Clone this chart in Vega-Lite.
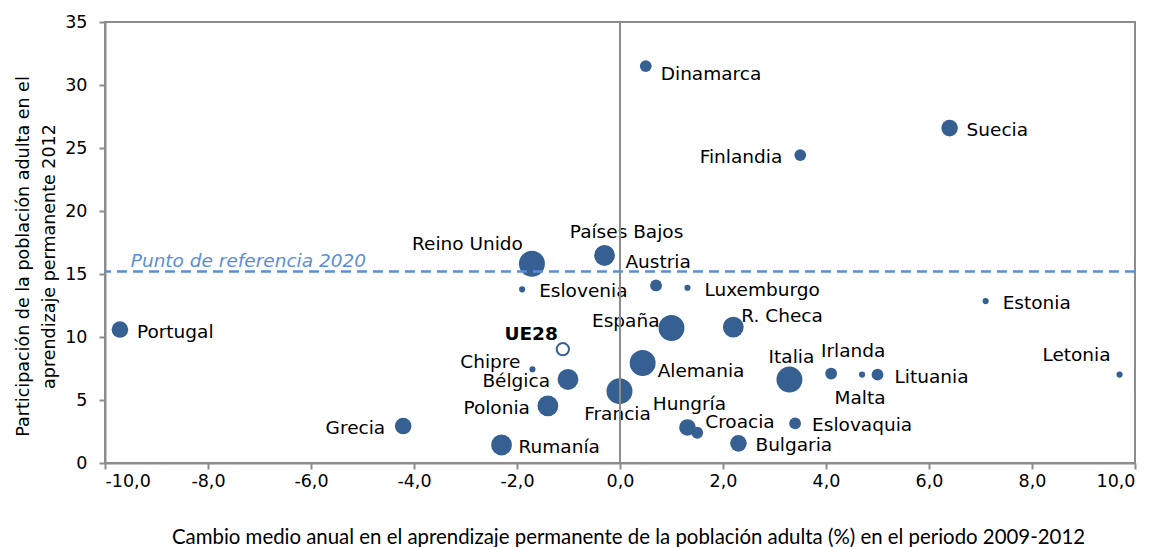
{
  "$schema": "https://vega.github.io/schema/vega-lite/v6.json",
  "autosize": {"type": "none"},
  "padding": {"left": 105, "top": 22, "right": 22, "bottom": 84},
  "width": 1030,
  "height": 441,
  "background": "white",
  "config": {
    "view": {"stroke": "#8c8c8c", "strokeWidth": 2},
    "font": "DejaVu Sans",
    "axis": {
      "grid": false,
      "domainColor": "#8c8c8c",
      "domainWidth": 2,
      "tickColor": "#8c8c8c",
      "tickWidth": 2,
      "labelFont": "DejaVu Sans",
      "labelFontSize": 17.5,
      "labelColor": "#000000",
      "titleColor": "#000000",
      "titleFontWeight": "normal"
    }
  },
  "datasets": {
    "paises": [
      {"pais": "Portugal", "cambio": -9.71, "participacion": 10.59, "clase": 3, "posicion": "derecha", "tipo": "país"},
      {"pais": "Grecia", "cambio": -4.21, "participacion": 2.93, "clase": 3, "posicion": "izquierda", "tipo": "país"},
      {"pais": "Rumanía", "cambio": -2.30, "participacion": 1.43, "clase": 4, "posicion": "derecha", "tipo": "país"},
      {"pais": "Polonia", "cambio": -1.40, "participacion": 4.54, "clase": 4, "posicion": "izquierda", "tipo": "país"},
      {"pais": "Bélgica", "cambio": -1.01, "participacion": 6.63, "clase": 4, "posicion": "izquierda", "tipo": "país"},
      {"pais": "Chipre", "cambio": -1.70, "participacion": 7.44, "clase": 1, "posicion": "izquierda-arriba", "tipo": "país"},
      {"pais": "Eslovenia", "cambio": -1.90, "participacion": 13.78, "clase": 1, "posicion": "derecha", "tipo": "país"},
      {"pais": "Reino Unido", "cambio": -1.71, "participacion": 15.81, "clase": 5, "posicion": "arriba-izquierda", "tipo": "país"},
      {"pais": "Países Bajos", "cambio": -0.30, "participacion": 16.47, "clase": 4, "posicion": "arriba-derecha", "tipo": "país"},
      {"pais": "Francia", "cambio": -0.01, "participacion": 5.70, "clase": 5, "posicion": "abajo", "tipo": "país"},
      {"pais": "Alemania", "cambio": 0.44, "participacion": 7.94, "clase": 5, "posicion": "derecha-abajo", "tipo": "país"},
      {"pais": "España", "cambio": 1.00, "participacion": 10.71, "clase": 5, "posicion": "izquierda-arriba", "tipo": "país"},
      {"pais": "Austria", "cambio": 0.70, "participacion": 14.09, "clase": 2, "posicion": "arriba", "tipo": "país"},
      {"pais": "Luxemburgo", "cambio": 1.31, "participacion": 13.91, "clase": 1, "posicion": "derecha", "tipo": "país"},
      {"pais": "Dinamarca", "cambio": 0.50, "participacion": 31.5, "clase": 2, "posicion": "derecha-abajo", "tipo": "país"},
      {"pais": "Finlandia", "cambio": 3.50, "participacion": 24.44, "clase": 2, "posicion": "izquierda", "tipo": "país"},
      {"pais": "Suecia", "cambio": 6.40, "participacion": 26.58, "clase": 3, "posicion": "derecha", "tipo": "país"},
      {"pais": "Estonia", "cambio": 7.10, "participacion": 12.85, "clase": 1, "posicion": "derecha", "tipo": "país"},
      {"pais": "Letonia", "cambio": 9.70, "participacion": 7.02, "clase": 1, "posicion": "arriba-izquierda", "tipo": "país"},
      {"pais": "R. Checa", "cambio": 2.20, "participacion": 10.79, "clase": 4, "posicion": "derecha-arriba", "tipo": "país"},
      {"pais": "Italia", "cambio": 3.29, "participacion": 6.62, "clase": 5, "posicion": "arriba", "tipo": "país"},
      {"pais": "Irlanda", "cambio": 4.10, "participacion": 7.10, "clase": 2, "posicion": "arriba-derecha", "tipo": "país"},
      {"pais": "Malta", "cambio": 4.70, "participacion": 7.02, "clase": 1, "posicion": "abajo", "tipo": "país"},
      {"pais": "Lituania", "cambio": 5.00, "participacion": 7.02, "clase": 2, "posicion": "derecha", "tipo": "país"},
      {"pais": "Eslovaquia", "cambio": 3.40, "participacion": 3.14, "clase": 2, "posicion": "derecha", "tipo": "país"},
      {"pais": "Hungría", "cambio": 1.31, "participacion": 2.82, "clase": 3, "posicion": "arriba", "tipo": "país"},
      {"pais": "Croacia", "cambio": 1.50, "participacion": 2.40, "clase": 2, "posicion": "derecha-arriba", "tipo": "país"},
      {"pais": "Bulgaria", "cambio": 2.30, "participacion": 1.56, "clase": 3, "posicion": "derecha", "tipo": "país"},
      {"pais": "UE28", "cambio": -1.11, "participacion": 9.03, "clase": 2, "posicion": "arriba-izquierda", "tipo": "UE28"}
    ],
    "referencia": [
      {"cambio": -9.5, "participacion": 15.2, "texto": "Punto de referencia 2020"}
    ]
  },
  "encoding": {
    "x": {
      "field": "cambio", "type": "quantitative",
      "scale": {"domain": [-10, 10], "nice": false, "zero": false},
      "axis": {
        "values": [-10, -8, -6, -4, -2, 0, 2, 4, 6, 8, 10],
        "labelExpr": "(datum.value < 0 ? '-' : '') + replace(format(abs(datum.value), '.1f'), '.', ',')",
        "tickSize": 6,
        "labelPadding": 3,
        "title": "Cambio medio anual en el aprendizaje permanente de la población adulta (%) en el periodo 2009-2012",
        "titleFont": "Lato",
        "titleFontSize": 20.4,
        "titleX": 523,
        "titleY": 80,
        "titleAlign": "center",
        "titleBaseline": "alphabetic"
      }
    },
    "y": {
      "field": "participacion", "type": "quantitative",
      "scale": {"domain": [0, 35], "nice": false},
      "axis": {
        "values": [0, 5, 10, 15, 20, 25, 30, 35],
        "tickSize": 6,
        "labelPadding": 12,
        "title": ["Participación de la población adulta en el", "aprendizaje permanente 2012"],
        "titleFont": "DejaVu Sans",
        "titleFontSize": 17.5,
        "titleLineHeight": 26,
        "titleX": -77,
        "titleY": 234,
        "titleAlign": "center",
        "titleBaseline": "alphabetic"
      }
    }
  },
  "layer": [
    {
      "data": {"name": "paises"},
      "transform": [{"filter": "datum.tipo === 'país'"}],
      "mark": {"type": "circle", "opacity": 1, "color": "#365F92"},
      "encoding": {
        "size": {
          "field": "clase", "type": "quantitative",
          "scale": {"type": "threshold", "domain": [1.5, 2.5, 3.5, 4.5], "range": [38, 139, 275, 434, 674]},
          "legend": null
        }
      }
    },
    {
      "data": {"name": "paises"},
      "transform": [{"filter": "datum.tipo === 'UE28'"}],
      "mark": {"type": "point", "shape": "circle", "filled": false, "fill": "white", "stroke": "#365F92", "strokeWidth": 2, "opacity": 1, "size": 150}
    },
    {
      "data": {"name": "paises"},
      "transform": [{"filter": "datum.tipo === 'país' && datum.posicion === 'derecha'"}],
      "mark": {"type": "text", "align": "left", "baseline": "middle", "dx": 17, "dy": 2, "fontSize": 18.5, "color": "#000000"},
      "encoding": {"text": {"field": "pais"}}
    },
    {
      "data": {"name": "paises"},
      "transform": [{"filter": "datum.tipo === 'país' && datum.posicion === 'derecha-abajo'"}],
      "mark": {"type": "text", "align": "left", "baseline": "middle", "dx": 15, "dy": 8, "fontSize": 18.5, "color": "#000000"},
      "encoding": {"text": {"field": "pais"}}
    },
    {
      "data": {"name": "paises"},
      "transform": [{"filter": "datum.tipo === 'país' && datum.posicion === 'derecha-arriba'"}],
      "mark": {"type": "text", "align": "left", "baseline": "middle", "dx": 8, "dy": -11, "fontSize": 18.5, "color": "#000000"},
      "encoding": {"text": {"field": "pais"}}
    },
    {
      "data": {"name": "paises"},
      "transform": [{"filter": "datum.tipo === 'país' && datum.posicion === 'izquierda'"}],
      "mark": {"type": "text", "align": "right", "baseline": "middle", "dx": -18, "dy": 2, "fontSize": 18.5, "color": "#000000"},
      "encoding": {"text": {"field": "pais"}}
    },
    {
      "data": {"name": "paises"},
      "transform": [{"filter": "datum.tipo === 'país' && datum.posicion === 'izquierda-arriba'"}],
      "mark": {"type": "text", "align": "right", "baseline": "middle", "dx": -12, "dy": -7, "fontSize": 18.5, "color": "#000000"},
      "encoding": {"text": {"field": "pais"}}
    },
    {
      "data": {"name": "paises"},
      "transform": [{"filter": "datum.tipo === 'país' && datum.posicion === 'arriba'"}],
      "mark": {"type": "text", "align": "center", "baseline": "middle", "dx": 2, "dy": -23, "fontSize": 18.5, "color": "#000000"},
      "encoding": {"text": {"field": "pais"}}
    },
    {
      "data": {"name": "paises"},
      "transform": [{"filter": "datum.tipo === 'país' && datum.posicion === 'arriba-derecha'"}],
      "mark": {"type": "text", "align": "center", "baseline": "middle", "dx": 22, "dy": -23, "fontSize": 18.5, "color": "#000000"},
      "encoding": {"text": {"field": "pais"}}
    },
    {
      "data": {"name": "paises"},
      "transform": [{"filter": "datum.tipo === 'país' && datum.posicion === 'arriba-izquierda'"}],
      "mark": {"type": "text", "align": "right", "baseline": "middle", "dx": -9, "dy": -20, "fontSize": 18.5, "color": "#000000"},
      "encoding": {"text": {"field": "pais"}}
    },
    {
      "data": {"name": "paises"},
      "transform": [{"filter": "datum.tipo === 'país' && datum.posicion === 'abajo'"}],
      "mark": {"type": "text", "align": "center", "baseline": "middle", "dx": -2, "dy": 23, "fontSize": 18.5, "color": "#000000"},
      "encoding": {"text": {"field": "pais"}}
    },
    {
      "data": {"name": "paises"},
      "transform": [{"filter": "datum.tipo === 'UE28'"}],
      "mark": {"type": "text", "align": "right", "baseline": "middle", "dx": -5, "dy": -15, "fontSize": 18.5, "fontWeight": "bold", "color": "#000000"},
      "encoding": {"text": {"field": "pais"}}
    },
    {
      "data": {"values": [{"meta": 15.2}]},
      "mark": {"type": "rule", "color": "#5A8ED6", "strokeWidth": 2.5, "strokeDash": [10, 6]},
      "encoding": {"y": {"field": "meta", "type": "quantitative"}, "x": null}
    },
    {
      "data": {"values": [{"origen": 0}]},
      "mark": {"type": "rule", "color": "#8c8c8c", "strokeWidth": 2},
      "encoding": {"x": {"field": "origen", "type": "quantitative"}, "y": null}
    },
    {
      "data": {"name": "referencia"},
      "mark": {"type": "text", "align": "left", "baseline": "alphabetic", "dy": -4, "fontSize": 18.5, "fontStyle": "italic", "color": "#5A8ED6"},
      "encoding": {"text": {"field": "texto"}}
    }
  ]
}
